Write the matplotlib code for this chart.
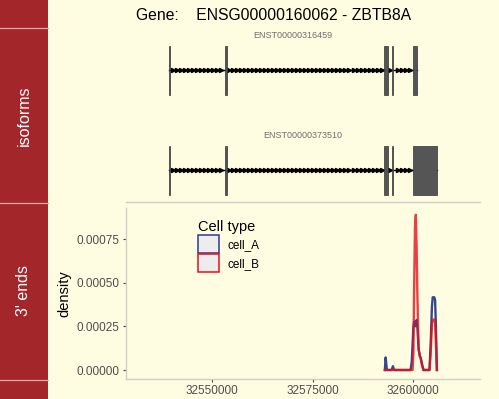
import numpy as np
import matplotlib
matplotlib.use("Agg")
import matplotlib.pyplot as plt
from matplotlib.patches import Rectangle, Patch
from matplotlib.lines import Line2D

plt.rcParams['font.family'] = ['Liberation Sans', 'DejaVu Sans']

# ---------------- data ----------------
gene_title = "Gene:    ENSG00000160062 - ZBTB8A"
transcripts = ["ENST00000316459", "ENST00000373510"]
# exon (start, end) per transcript
exons_t1 = [(32539200, 32539550), (32553300, 32553650), (32592800, 32593750),
            (32594850, 32595100), (32600075, 32600920)]
exons_t2 = [(32539200, 32539550), (32553300, 32553650), (32592800, 32593750),
            (32594850, 32595100), (32599925, 32605900)]

cell_types = ["cell_A", "cell_B"]
positions = [32593000, 32593200, 32593500, 32594700, 32595000, 32595300,
             32599400, 32599700, 32599900, 32600100, 32600300, 32600500,
             32600700, 32600900, 32601100, 32601400, 32601700, 32601900,
             32602200, 32602600, 32604100, 32604400, 32604700, 32604900,
             32605100, 32605300, 32605500, 32605700, 32605950]
density_A = [0.0, 0.000072, 0.0, 0.0, 0.000022, 0.0,
             0.0, 0.00005, 0.00015, 0.00025, 0.000277, 0.00025,
             0.00027, 0.000287, 0.00024, 0.00012, 0.00008, 0.00007,
             0.00004, 0.0, 0.0, 0.00015, 0.00036, 0.000417,
             0.000417, 0.000417, 0.0004, 0.00025, 0.0]
density_B = [0.0, 0.0, 0.0, 0.0, 0.0, 0.0,
             0.0, 0.0, 0.0, 0.0001, 0.0005, 0.00082,
             0.00089, 0.0007, 0.00042, 0.00012, 0.00008, 0.00007,
             0.00003, 0.0, 0.0, 0.0001, 0.00026, 0.000287,
             0.00029, 0.000287, 0.00027, 0.00015, 0.0]

x_ticks = [32550000, 32575000, 32600000]
y_ticks = [0.0, 0.00025, 0.0005, 0.00075]
strip_labels = ["isoforms", "3' ends"]

# ---------------- style ----------------
BG = "#FFFDE1"
STRIP = "#A3262B"
SEP = "#EFA9A4"
COL_A = "#2E3A8E"
COL_B = "#E5101B"
W, H = 499, 399

fig = plt.figure(figsize=(W / 100, H / 100), dpi=100, facecolor=BG)


def fbox(x0, y0, x1, y1):
    """pixel box (top-left origin) -> figure rect"""
    return [x0 / W, 1 - y1 / H, (x1 - x0) / W, (y1 - y0) / H]


# strips
for (y0, y1) in [(0, 27.5), (28.5, 202.5), (203.5, 379.5), (380.5, 399)]:
    fig.patches.append(Rectangle((0, 1 - y1 / H), 47.5 / W, (y1 - y0) / H,
                                 transform=fig.transFigure, facecolor=STRIP,
                                 edgecolor='none', zorder=0))
for y in [28, 203, 380]:
    fig.add_artist(Line2D([0, 47.5 / W], [1 - y / H, 1 - y / H],
                          transform=fig.transFigure, color=SEP, lw=0.9))
fig.text(24 / W, 1 - 116 / H, strip_labels[0], rotation=90, color='white',
         fontsize=11.5, ha='center', va='center')
fig.text(24 / W, 1 - 291 / H, strip_labels[1], rotation=90, color='white',
         fontsize=11.5, ha='center', va='center')

# title
fig.text(273.5 / W, 1 - 20 / H, gene_title, fontsize=11.3, ha='center',
         va='baseline', color='black')

xlim = (32528606, 32616667)

# ---------------- isoforms panel ----------------
ax1 = fig.add_axes(fbox(126, 29, 480, 202))
ax1.set_facecolor(BG)
ax1.set_xlim(*xlim)
ax1.set_ylim(1.32, -0.41)
for s in ['top', 'left', 'right']:
    ax1.spines[s].set_visible(False)
ax1.spines['bottom'].set_color('#CFCFC4')
ax1.spines['bottom'].set_linewidth(1.0)
ax1.set_xticks([])
ax1.set_yticks([])

for i, (name, exons) in enumerate(zip(transcripts, [exons_t1, exons_t2])):
    start = min(e[0] for e in exons)
    end = max(e[1] for e in exons)
    ax1.plot([start, end], [i, i], color='black', lw=1.0, zorder=1)
    arrows = np.arange(start + 1000, end, 1000)
    keep = [a for a in arrows if not any(e[0] - 300 <= a <= e[1] + 300 for e in exons)]
    ax1.plot(keep, [i] * len(keep), linestyle='none', marker='>',
             markersize=3.0, color='black', zorder=2)
    for (s, e) in exons:
        ax1.add_patch(Rectangle((s, i - 0.245), e - s, 0.49,
                                facecolor='#555555', edgecolor='#333333',
                                lw=0.5, zorder=3))
    ax1.text((start + end) / 2, i - 0.35, name, fontsize=6.5, color='#6E6E6E',
             ha='center', va='center')

# ---------------- density panel ----------------
ax2 = fig.add_axes(fbox(126, 208, 480, 379))
ax2.set_facecolor(BG)
ax2.set_xlim(*xlim)
ax2.set_ylim(-0.0000516, 0.000929)
for s in ['top', 'right']:
    ax2.spines[s].set_visible(False)
for s in ['left', 'bottom']:
    ax2.spines[s].set_color('#CFCFC4')
    ax2.spines[s].set_linewidth(1.0)

ax2.plot(positions, density_A, color=COL_A, lw=1.7, alpha=0.95, zorder=3)
ax2.plot(positions, density_B, color=COL_B, lw=1.7, alpha=0.8, zorder=4)

ax2.set_xticks(x_ticks)
ax2.set_xticklabels([str(t) for t in x_ticks])
ax2.set_yticks(y_ticks)
ax2.set_yticklabels([f"{t:.5f}" for t in y_ticks])
ax2.tick_params(axis='both', length=2.5, width=0.8, color='#444444',
                labelsize=8.5, labelcolor='#4D4D4D', pad=2)
ax2.set_ylabel("density", fontsize=10.5, color='black', labelpad=4)

handles = [Patch(facecolor='#EDEDEE', edgecolor=COL_A, lw=1.1),
           Patch(facecolor='#EDEDEE', edgecolor=COL_B, lw=1.1)]
leg = ax2.legend(handles, cell_types, title="Cell type", loc='upper left',
                 bbox_to_anchor=(192 / W, 1 - 214 / H),
                 bbox_transform=fig.transFigure, frameon=False,
                 fontsize=8.5, title_fontsize=10.5, borderpad=0,
                 handlelength=1.8, handleheight=1.95, labelspacing=0.1,
                 handletextpad=0.7, alignment='left')

fig.savefig("out.png", dpi=100, facecolor=BG)
